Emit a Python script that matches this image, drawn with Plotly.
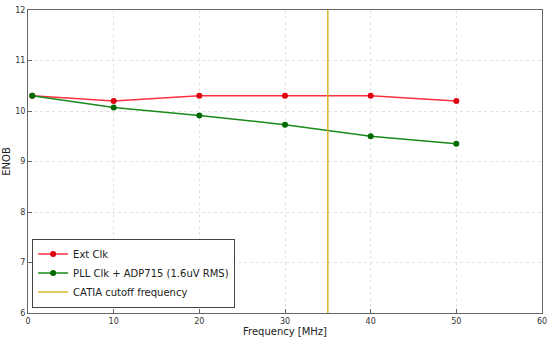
import plotly.graph_objects as go

freq = [0.5, 10, 20, 30, 40, 50]
ext_clk = [10.3, 10.2, 10.3, 10.3, 10.3, 10.2]
pll_clk = [10.3, 10.07, 9.91, 9.73, 9.5, 9.35]
cutoff_x = [35, 35]
cutoff_y = [6, 12]

fig = go.Figure()
fig.add_trace(go.Scatter(x=freq, y=ext_clk, mode="lines+markers", name="Ext Clk",
                         line=dict(color="#ff3040", width=1.5),
                         marker=dict(color="#e00010", size=6)))
fig.add_trace(go.Scatter(x=freq, y=pll_clk, mode="lines+markers", name="PLL Clk + ADP715 (1.6uV RMS)",
                         line=dict(color="#1a8a1a", width=1.5),
                         marker=dict(color="#006a00", size=6)))
fig.add_trace(go.Scatter(x=cutoff_x, y=cutoff_y, mode="lines", name="CATIA cutoff frequency",
                         line=dict(color="#d8b428", width=1.5)))

axis_common = dict(showgrid=True, gridcolor="#e2e2e2", griddash="dot", gridwidth=1,
                   showline=True, linecolor="#666666", linewidth=1, mirror=True,
                   ticks="inside", ticklen=4, tickcolor="#666666", zeroline=False,
                   automargin=False,
                   tickfont=dict(size=8, color="#333333"))

fig.update_xaxes(range=[0, 60], dtick=10, title=dict(text="Frequency [MHz]", font=dict(size=10, color="#222222"), standoff=1),
                 **axis_common)
fig.update_yaxes(range=[6, 12], dtick=1, title=dict(text="ENOB", font=dict(size=10, color="#222222"), standoff=2),
                 **axis_common)

fig.update_layout(
    width=550, height=342,
    margin=dict(l=28, r=8, t=10, b=29),
    paper_bgcolor="white", plot_bgcolor="white",
    font=dict(family="DejaVu Sans", size=9, color="#222222"),
    showlegend=True,
    legend=dict(x=0.008, y=0.018, xanchor="left", yanchor="bottom",
                bgcolor="white", bordercolor="#444444", borderwidth=1,
                font=dict(size=10, color="#222222"), tracegroupgap=0,
                itemwidth=30),
)

fig.write_html("out.html", config={"displayModeBar": False},
               post_script="document.body.style.margin='0';")
